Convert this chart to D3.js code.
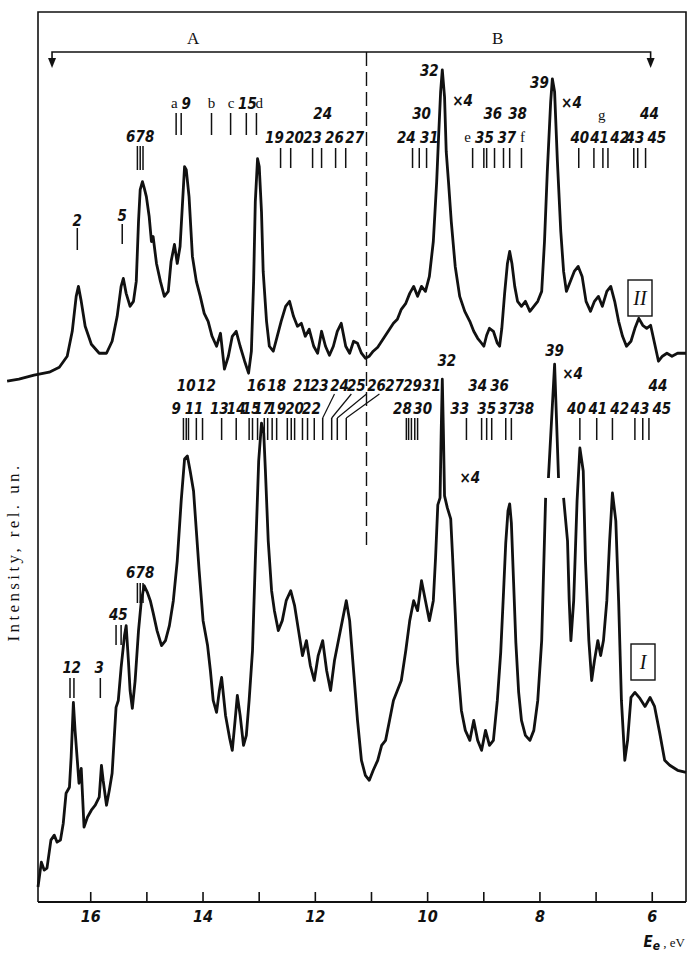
<!DOCTYPE html>
<html>
<head>
<meta charset="utf-8">
<script src="https://cdn.jsdelivr.net/npm/d3@7/dist/d3.min.js"></script>
<style>
body { margin: 0; background: #fff; }
svg { display: block; }
.num { font-family: "Liberation Sans Narrow", "DejaVu Sans Condensed", sans-serif; font-weight: bold; font-style: italic; font-size: 15px; }
.let { font-family: "Liberation Serif", serif; font-size: 15px; }
</style>
</head>
<body>
<svg id="chart" width="688" height="954"></svg>
<script>
// spectra, [energy eV, intensity rel. un.]
var spectrumII = [
  [17.48,522],[17.27,524],[17.00,528],[16.73,531],[16.55,536],[16.41,547],[16.32,572],[16.25,607],[16.21,617],
  [16.16,602],[16.09,577],[15.98,559],[15.84,550],[15.71,550],[15.61,562],[15.52,587],[15.45,617],[15.41,625],
  [15.36,610],[15.29,597],[15.23,602],[15.18,622],[15.14,682],[15.11,714],[15.07,722],[15.04,716],[15.00,707],
  [14.95,687],[14.91,662],[14.88,667],[14.82,640],[14.75,622],[14.68,607],[14.61,612],[14.56,642],[14.50,659],
  [14.45,640],[14.40,657],[14.36,697],[14.32,737],[14.29,734],[14.24,707],[14.18,647],[14.11,622],[14.04,607],
  [13.97,590],[13.90,582],[13.83,567],[13.75,557],[13.68,570],[13.61,534],[13.54,547],[13.47,567],[13.40,572],
  [13.33,557],[13.25,542],[13.18,530],[13.13,552],[13.09,622],[13.06,702],[13.02,745],[12.99,737],[12.95,692],
  [12.92,632],[12.86,582],[12.81,557],[12.74,552],[12.67,567],[12.60,582],[12.52,597],[12.45,602],[12.38,587],
  [12.31,577],[12.24,580],[12.17,567],[12.10,574],[12.02,557],[11.95,550],[11.88,572],[11.81,557],[11.74,548],
  [11.67,557],[11.60,572],[11.53,580],[11.45,557],[11.38,550],[11.31,562],[11.24,560],[11.17,550],[11.10,545],
  [11.03,547],[10.96,552],[10.88,556],[10.81,562],[10.74,568],[10.67,574],[10.60,580],[10.53,584],[10.46,594],
  [10.38,600],[10.31,610],[10.24,617],[10.17,607],[10.10,617],[10.03,612],[9.96,627],[9.89,662],[9.83,722],
  [9.80,762],[9.76,812],[9.73,834],[9.69,807],[9.66,752],[9.62,722],[9.57,682],[9.50,637],[9.42,607],
  [9.33,592],[9.24,582],[9.17,572],[9.10,565],[9.03,560],[8.99,557],[8.94,568],[8.89,575],[8.82,572],
  [8.75,560],[8.71,557],[8.67,575],[8.62,610],[8.57,640],[8.53,652],[8.49,640],[8.44,617],[8.39,602],
  [8.32,597],[8.25,602],[8.17,592],[8.10,597],[8.03,602],[7.96,612],[7.91,662],[7.86,732],[7.80,802],
  [7.77,825],[7.73,812],[7.68,742],[7.62,672],[7.57,632],[7.52,612],[7.45,622],[7.38,632],[7.31,637],
  [7.24,627],[7.17,602],[7.09,592],[7.02,602],[6.95,607],[6.88,597],[6.80,612],[6.73,617],[6.66,602],
  [6.59,582],[6.52,567],[6.45,557],[6.37,562],[6.30,575],[6.23,585],[6.16,578],[6.09,575],[6.02,578],
  [5.95,560],[5.88,542],[5.81,547],[5.73,550],[5.64,547],[5.54,550],[5.39,550]
];
var spectrumI = [
  [16.93,15],[16.87,40],[16.82,32],[16.77,34],[16.70,62],[16.64,67],[16.59,60],[16.53,62],[16.48,79],[16.43,109],
  [16.37,115],[16.34,145],[16.30,200],[16.27,172],[16.23,142],[16.20,119],[16.16,134],[16.11,75],[16.05,85],
  [15.98,92],[15.91,97],[15.84,105],[15.80,137],[15.77,122],[15.71,97],[15.66,112],[15.61,129],[15.54,195],
  [15.50,202],[15.45,235],[15.39,267],[15.36,277],[15.32,242],[15.29,212],[15.25,194],[15.20,222],[15.14,272],
  [15.09,302],[15.04,317],[14.98,310],[14.93,302],[14.88,290],[14.81,272],[14.73,257],[14.66,262],[14.59,277],
  [14.52,302],[14.45,342],[14.38,402],[14.32,444],[14.27,447],[14.22,432],[14.16,412],[14.11,372],[14.06,332],
  [13.99,282],[13.91,257],[13.86,232],[13.81,202],[13.75,190],[13.70,212],[13.66,225],[13.59,187],[13.52,165],
  [13.47,152],[13.42,182],[13.38,207],[13.33,187],[13.27,157],[13.22,167],[13.17,202],[13.11,252],[13.06,342],
  [13.00,442],[12.95,480],[12.91,470],[12.88,432],[12.83,362],[12.77,312],[12.72,292],[12.65,272],[12.58,282],
  [12.51,302],[12.43,312],[12.36,297],[12.29,272],[12.22,247],[12.15,262],[12.08,237],[12.01,222],[11.94,247],
  [11.86,262],[11.79,232],[11.72,212],[11.65,242],[11.58,262],[11.51,282],[11.44,302],[11.38,282],[11.31,232],
  [11.24,182],[11.17,142],[11.10,127],[11.03,122],[10.96,132],[10.88,142],[10.81,157],[10.74,162],[10.67,182],
  [10.60,202],[10.53,212],[10.46,222],[10.38,252],[10.31,282],[10.24,302],[10.17,292],[10.10,322],[10.03,302],
  [9.96,282],[9.89,302],[9.85,345],[9.81,398],[9.77,405],[9.75,470],[9.73,524],[9.71,470],[9.69,407],
  [9.64,395],[9.58,384],[9.55,350],[9.50,290],[9.46,240],[9.39,192],[9.32,172],[9.24,162],[9.17,182],
  [9.10,162],[9.03,152],[8.96,172],[8.89,157],[8.82,162],[8.75,202],[8.69,250],[8.64,310],[8.60,360],
  [8.56,392],[8.53,399],[8.50,380],[8.46,320],[8.42,260],[8.37,210],[8.32,182],[8.25,167],[8.17,162],
  [8.10,172],[8.03,202],[7.96,262],[7.89,405]
];
var spectrumIspike39 = [[7.84,425],[7.73,539],[7.66,425]];
var spectrumItail = [
  [7.57,405],[7.50,362],[7.47,302],[7.44,262],[7.39,302],[7.33,402],[7.28,455],[7.22,432],[7.18,342],
  [7.12,262],[7.07,222],[7.02,242],[6.96,262],[6.91,247],[6.86,262],[6.80,302],[6.75,362],[6.70,410],
  [6.64,382],[6.59,302],[6.54,202],[6.48,142],[6.43,162],[6.37,205],[6.30,210],[6.21,204],[6.12,196],
  [6.03,205],[5.95,196],[5.86,170],[5.77,142],[5.68,137],[5.54,132],[5.39,130]
];

// line markers above the spectra (energy of each line)
var linesIIa = [16.23];
var linesIIb = [15.43];
var linesIIc = [15.16, 15.11, 15.06];
var linesIId = [14.47, 14.38, 13.84, 13.50, 13.22, 13.04];
var linesIIe = [12.61, 12.43, 12.04, 11.88, 11.63, 11.45, 10.26, 10.14, 10.01,
  9.19, 8.99, 8.94, 8.80, 8.64, 8.53, 8.32, 7.30, 7.03, 6.87, 6.78, 6.32, 6.25, 6.11];
var linesIa = [16.36, 16.29, 15.82];
var linesIb = [15.54, 15.45];
var linesIc = [15.16, 15.11, 15.06];
var linesId = [14.34, 14.29, 14.25, 14.11, 14.00, 13.66, 13.40, 13.17, 13.11, 13.02, 12.90, 12.84,
  12.76, 12.68, 12.49, 12.42, 12.36, 12.22, 12.13, 12.01, 11.86, 11.70, 11.60, 11.44,
  10.37, 10.33, 10.28, 10.22, 10.17, 9.30, 9.03, 8.94, 8.85, 8.60, 8.50,
  7.28, 6.98, 6.70, 6.30, 6.16, 6.05];
var leadersI = [[11.65, 11.86], [11.35, 11.70], [11.08, 11.60], [10.85, 11.44]];

// labels [energy, text]
var labelsIIa = [[16.23, "2"], [15.43, "5"]];
var labelsIIb = [[15.11, "678"]];
var labelsIIc = [[14.50, "a"], [13.84, "b"], [13.49, "c"], [12.99, "d"]];
var labelsIIcNum = [[14.29, "9"], [13.20, "15"]];
var labelsIId = [[11.86, "24"], [10.10, "30"], [8.83, "36"], [8.39, "38"], [6.04, "44"]];
var labelsIIe = [[12.72, "19"], [12.36, "20"], [12.04, "23"], [11.65, "26"], [11.29, "27"],
  [10.37, "24"], [9.96, "31"], [8.98, "35"], [8.58, "37"],
  [7.28, "40"], [6.93, "41"], [6.57, "42"], [6.30, "43"], [5.91, "45"]];
var labelsIIeLet = [[9.28, "e"], [8.30, "f"]];
var labelsIIg = [[6.89, "g"]];
var labelsIITop = [[9.96, "32"], [8.00, "39"]];
var labelsIIx4 = [[9.37, "×4"], [7.43, "×4"]];

var labelsIa = [[16.41, "1"], [16.25, "2"], [15.84, "3"]];
var labelsIb = [[15.50, "45"]];
var labelsIc = [[15.11, "678"]];
var labelsId = [[14.29, "10"], [13.93, "12"], [13.04, "16"], [12.68, "18"], [12.22, "21"], [11.92, "23"],
  [11.56, "24"], [11.26, "25"], [10.90, "26"], [10.58, "27"], [10.26, "29"], [9.92, "31"],
  [9.10, "34"], [8.71, "36"], [5.89, "44"]];
var labelsIe = [[14.47, "9"], [14.15, "11"], [13.70, "13"], [13.40, "14"], [13.13, "15"], [12.93, "17"],
  [12.68, "19"], [12.36, "20"], [12.06, "22"], [10.44, "28"], [10.08, "30"], [9.42, "33"],
  [8.94, "35"], [8.57, "37"], [8.26, "38"], [7.34, "40"], [6.96, "41"], [6.57, "42"], [6.21, "43"], [5.82, "45"]];
var labelsITop = [[9.65, "32"], [7.73, "39"]];
var labelsIx4 = [[7.41, "×4", 379], [9.24, "×4", 483]];

var axisTicks = [16, 15, 14, 13, 12, 11, 10, 9, 8, 7, 6];
var axisLabels = [16, 14, 12, 10, 8, 6];
var regionSplit = 11.08;
var regionEnds = [16.68, 6.02];

var chart = {};
chart.frame = { left: 38, right: 686, top: 12, bottom: 902 };
chart.x = d3.scaleLinear().domain([16.93, 5.39]).range([chart.frame.left, chart.frame.right]);
chart.y = d3.scaleLinear().domain([0, 892]).range([chart.frame.bottom, chart.frame.top]);
chart.svg = d3.select("#chart");

chart.init = function() {
    var svg = this.svg, x = this.x, f = this.frame;

    // frame: left, top, right
    svg.append("path")
        .attr("d", `M${f.left},${f.bottom}V${f.top}H${f.right}V${f.bottom}`)
        .attr("fill", "none").attr("stroke", "#111").attr("stroke-width", 1.6);

    // bottom axis, ticks pointing inwards
    var axis = d3.axisBottom(x)
        .tickValues(axisTicks)
        .tickSizeInner(-10).tickSizeOuter(0).tickPadding(9)
        .tickFormat(d => axisLabels.indexOf(d) >= 0 ? d : "");
    var g = svg.append("g").attr("transform", `translate(0,${f.bottom})`).call(axis);
    g.select(".domain").attr("stroke", "#111").attr("stroke-width", 2).attr("d", `M${f.left},0H${f.right}`);
    g.selectAll(".tick line").attr("stroke", "#111").attr("stroke-width", 1.6);
    g.selectAll(".tick text").attr("class", "num").style("font-size", "16px").attr("fill", "#111");

    // axis title
    var t = svg.append("text").attr("x", 685).attr("y", 947).attr("text-anchor", "end").attr("fill", "#111");
    t.append("tspan").attr("class", "num").style("font-size", "15px").text("E");
    t.append("tspan").attr("class", "num").attr("dy", 3).style("font-size", "12px").text("e");
    t.append("tspan").attr("class", "let").attr("dy", -3).style("font-size", "13px").text(" , eV");

    svg.append("text")
        .attr("transform", "translate(19,552) rotate(-90)")
        .attr("text-anchor", "middle").attr("class", "let")
        .style("font-size", "17px").style("letter-spacing", "3.4px")
        .attr("fill", "#111").text("Intensity, rel. un.");

    this.drawRegions();
    this.drawSpectra();
    this.drawMarkers();
};

chart.drawRegions = function() {
    var svg = this.svg, x = this.x;
    var yb = 52;
    svg.append("path")
        .attr("d", `M${x(regionEnds[0])},60V${yb}H${x(regionEnds[1])}V60`)
        .attr("fill", "none").attr("stroke", "#111").attr("stroke-width", 1.6);
    regionEnds.forEach(e => {
        svg.append("path")
            .attr("d", `M${x(e) - 4},58L${x(e) + 4},58L${x(e)},68Z`)
            .attr("fill", "#111");
    });
    svg.append("line")
        .attr("x1", x(regionSplit)).attr("x2", x(regionSplit))
        .attr("y1", yb).attr("y2", 545)
        .attr("stroke", "#111").attr("stroke-width", 1.4)
        .attr("stroke-dasharray", "14,6");
    svg.append("text").attr("class", "let").attr("text-anchor", "middle")
        .attr("x", (x(regionEnds[0]) + x(regionSplit)) / 2 - 16).attr("y", 44)
        .style("font-size", "17px").attr("fill", "#111").text("A");
    svg.append("text").attr("class", "let").attr("text-anchor", "middle")
        .attr("x", (x(regionEnds[1]) + x(regionSplit)) / 2 - 11).attr("y", 44)
        .style("font-size", "17px").attr("fill", "#111").text("B");

    // curve numbers
    [["II", 640, 298], ["I", 643, 662]].forEach(r => {
        svg.append("rect").attr("x", r[1] - 12).attr("y", r[2] - 18)
            .attr("width", 24).attr("height", 36)
            .attr("fill", "none").attr("stroke", "#111").attr("stroke-width", 1.4);
        svg.append("text").attr("class", "let").attr("text-anchor", "middle")
            .attr("x", r[1]).attr("y", r[2] + 7).style("font-size", "20px")
            .style("font-style", "italic").attr("fill", "#111").text(r[0]);
    });
};

chart.drawSpectra = function() {
    var line = d3.line().x(d => this.x(d[0])).y(d => this.y(d[1]));
    [spectrumII, spectrumI, spectrumIspike39, spectrumItail].forEach(s => {
        this.svg.append("path")
            .datum(s)
            .attr("d", line)
            .attr("fill", "none")
            .attr("stroke", "#111")
            .attr("stroke-width", 2.8)
            .attr("stroke-linejoin", "round");
    });
};

// vertical marker lines between two pixel rows
chart.ticks = function(list, y1, y2) {
    this.svg.append("g").selectAll("line").data(list).enter().append("line")
        .attr("x1", d => this.x(d)).attr("x2", d => this.x(d))
        .attr("y1", y1).attr("y2", y2)
        .attr("stroke", "#111").attr("stroke-width", 1.5);
};

chart.labels = function(list, yBase, cls) {
    this.svg.append("g").selectAll("text").data(list).enter().append("text")
        .attr("class", cls || "num").attr("text-anchor", "middle")
        .attr("x", d => this.x(d[0])).attr("y", d => d[2] || yBase)
        .attr("fill", "#111").text(d => d[1]);
};

chart.drawMarkers = function() {
    // spectrum II
    this.ticks(linesIIa, 228, 250);
    this.ticks(linesIIb, 224, 244);
    this.ticks(linesIIc, 146, 170);
    this.ticks(linesIId, 113, 135);
    this.ticks(linesIIe, 148, 168);
    this.labels(labelsIIa.slice(0, 1), 226);
    this.labels(labelsIIa.slice(1), 221);
    this.labels(labelsIIb, 142);
    this.labels(labelsIIc, 108, "let");
    this.labels(labelsIIcNum, 109);
    this.labels(labelsIId, 119);
    this.labels(labelsIIe, 143);
    this.labels(labelsIIeLet, 142, "let");
    this.labels(labelsIIg, 120, "let");
    this.labels(labelsIITop.slice(0, 1), 76);
    this.labels(labelsIITop.slice(1), 88);
    this.labels(labelsIIx4.slice(0, 1), 106);
    this.labels(labelsIIx4.slice(1), 108);

    // spectrum I
    this.ticks(linesIa, 678, 698);
    this.ticks(linesIb, 625, 645);
    this.ticks(linesIc, 583, 603);
    this.ticks(linesId, 418, 440);
    this.svg.append("g").selectAll("line").data(leadersI).enter().append("line")
        .attr("x1", d => this.x(d[0])).attr("x2", d => this.x(d[1]))
        .attr("y1", 394).attr("y2", 418)
        .attr("stroke", "#111").attr("stroke-width", 1.2);
    this.labels(labelsIa, 673);
    this.labels(labelsIb, 620);
    this.labels(labelsIc, 578);
    this.labels(labelsId, 391);
    this.labels(labelsIe, 414);
    this.labels(labelsITop.slice(0, 1), 366);
    this.labels(labelsITop.slice(1), 356);
    this.labels(labelsIx4, 0);
};

chart.init();
</script>
</body>
</html>
